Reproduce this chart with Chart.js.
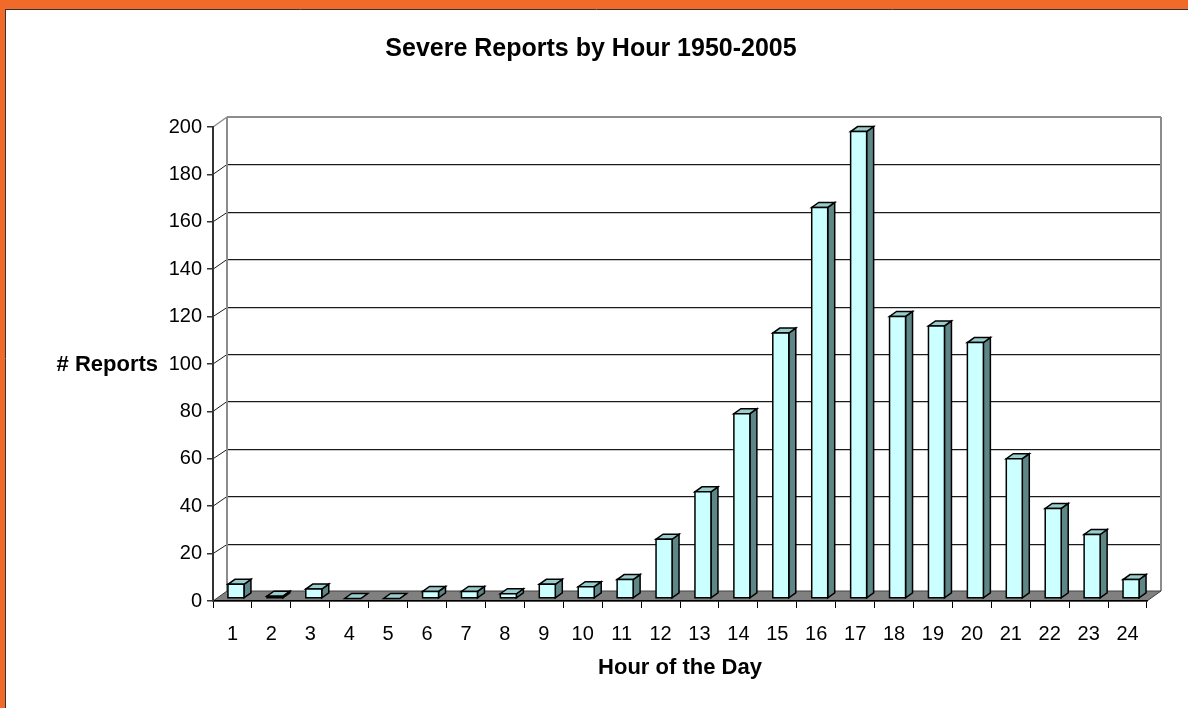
<!DOCTYPE html>
<html>
<head>
<meta charset="utf-8">
<script src="https://cdn.jsdelivr.net/npm/chart.js@4.4.1/dist/chart.umd.min.js"></script>
<style>
  html, body { margin: 0; padding: 0; background: #fff; }
  #wrap { width: 1188px; height: 708px; }
</style>
</head>
<body>
<div id="wrap"><canvas id="reportsChart" width="1188" height="708"></canvas></div>
<script>
// Severe reports per hour of the day
const hours = ['1', '2', '3', '4', '5', '6', '7', '8', '9', '10', '11', '12',
               '13', '14', '15', '16', '17', '18', '19', '20', '21', '22', '23', '24'];
const reports = [6, 1, 4, 0, 0, 3, 3, 2, 6, 5, 8, 25,
                 45, 78, 112, 165, 197, 119, 115, 108, 59, 38, 27, 8];
const yMin = 0;
const yMax = 200;
const yStep = 20;

const chartTitle = 'Severe Reports by Hour 1950-2005';
const xTitle = 'Hour of the Day';
const yTitle = '# Reports';

const FONT = "'Liberation Sans', Arial, sans-serif";

// 3d look: wall depth, bar front offset, bar depth
const DX = 14, DY = -10;
const BX = 3.5, BY = -2.5;
const SX = 7, SY = -5;

function line(ctx, x1, y1, x2, y2, color, w) {
    ctx.beginPath();
    ctx.moveTo(x1, y1);
    ctx.lineTo(x2, y2);
    ctx.strokeStyle = color;
    ctx.lineWidth = w;
    ctx.stroke();
}

function poly(ctx, pts, fill, stroke, w) {
    ctx.beginPath();
    ctx.moveTo(pts[0][0], pts[0][1]);
    for (let i = 1; i < pts.length; i++) ctx.lineTo(pts[i][0], pts[i][1]);
    ctx.closePath();
    ctx.fillStyle = fill;
    ctx.fill();
    if (stroke) {
        ctx.strokeStyle = stroke;
        ctx.lineWidth = w;
        ctx.lineJoin = 'miter';
        ctx.stroke();
    }
}

const excel3d = {
    id: 'excel3d',
    beforeDraw(chart) {
        const ctx = chart.ctx;
        const a = chart.chartArea;
        const y = chart.scales.y;
        ctx.save();

        // orange frame
        ctx.fillStyle = '#F26A2A';
        ctx.fillRect(0, 0, chart.width, 9);
        ctx.fillRect(0, 0, 5, chart.height);
        line(ctx, 5, 9.5, chart.width, 9.5, '#333', 1);
        line(ctx, 5.5, 9, 5.5, chart.height, '#333', 1);

        const wl = a.left + DX, wr = a.right + DX;
        const wt = y.getPixelForValue(yMax) + DY;
        const wb = y.getPixelForValue(yMin) + DY;

        // gridlines on back wall and side wall
        for (let v = yMin + yStep; v < yMax; v += yStep) {
            const fy = y.getPixelForValue(v);
            const by = Math.round(fy + DY) + 0.5;
            line(ctx, wl, by + 1, wr, by + 1, '#c8c8c8', 1);
            line(ctx, wl, by, wr, by, '#1a1a1a', 1);
            line(ctx, a.left, fy, wl, by, '#1a1a1a', 1);
        }

        // wall outline
        line(ctx, wl, wt, wr, wt, '#8c8c8c', 2);
        line(ctx, wl, wt, wl, wb, '#8c8c8c', 2);
        line(ctx, wr, wt, wr, wb, '#8c8c8c', 2);
        line(ctx, a.left, y.getPixelForValue(yMax), wl, wt, '#8c8c8c', 1.5);

        // floor
        const fb = y.getPixelForValue(yMin);
        poly(ctx, [[a.left, fb], [a.right, fb], [wr, wb], [wl, wb]], '#808080', '#404040', 1);
        ctx.restore();
    },
    afterDatasetsDraw(chart) {
        const ctx = chart.ctx;
        const meta = chart.getDatasetMeta(0);
        ctx.save();
        meta.data.forEach(bar => {
            const p = bar.getProps(['x', 'y', 'base', 'width'], true);
            const x0 = p.x - p.width / 2 + BX, x1 = p.x + p.width / 2 + BX;
            const yt = p.y + BY, yb = p.base + BY;
            // side face
            poly(ctx, [[x1, yt], [x1 + SX, yt + SY], [x1 + SX, yb + SY], [x1, yb]], '#5F8686', '#000', 1.5);
            // top face
            poly(ctx, [[x0, yt], [x1, yt], [x1 + SX, yt + SY], [x0 + SX, yt + SY]], '#99CCCC', '#000', 1.5);
            // front face
            if (yb - yt > 0.5) poly(ctx, [[x0, yt], [x1, yt], [x1, yb], [x0, yb]], '#CCFFFF', '#000', 1.5);
        });
        ctx.restore();
    },
    afterDraw(chart) {
        const ctx = chart.ctx;
        const y = chart.scales.y;
        ctx.save();
        ctx.fillStyle = '#000';
        ctx.textAlign = 'center';
        ctx.textBaseline = 'middle';
        ctx.font = 'bold 25px ' + FONT;
        ctx.fillText(chartTitle, 591, 49);
        ctx.font = 'bold 22px ' + FONT;
        ctx.textAlign = 'right';
        ctx.fillText(yTitle, 158, y.getPixelForValue(100) + 1);
        ctx.restore();
    }
};

new Chart(document.getElementById('reportsChart').getContext('2d'), {
    type: 'bar',
    data: {
        labels: hours,
        datasets: [{
            label: yTitle,
            data: reports,
            backgroundColor: 'rgba(0,0,0,0)',
            borderWidth: 0,
            categoryPercentage: 1,
            barPercentage: 0.411
        }]
    },
    options: {
        responsive: false,
        animation: false,
        devicePixelRatio: 1,
        layout: { padding: { top: 127, right: 41, left: 0, bottom: 0 } },
        plugins: {
            legend: { display: false },
            tooltip: { enabled: false },
            title: { display: false }
        },
        scales: {
            x: {
                grid: { drawOnChartArea: false, tickLength: 7, color: '#000', lineWidth: 1 },
                border: { color: '#000', width: 1.5 },
                ticks: { color: '#000', font: { family: FONT, size: 20 }, padding: 14, maxRotation: 0 },
                title: { display: true, text: xTitle, color: '#000', font: { family: FONT, size: 22, weight: 'bold' },
                         padding: { top: 0, bottom: 27 } },
                afterFit(scale) { scale.height = 107; }
            },
            y: {
                min: yMin,
                max: yMax,
                ticks: { stepSize: yStep, color: '#000', font: { family: FONT, size: 20 }, padding: 5 },
                grid: { drawOnChartArea: false, tickLength: 6, color: '#333', lineWidth: 1.5 },
                border: { color: '#333', width: 2 },
                afterFit(scale) { scale.width = 213; }
            }
        }
    },
    plugins: [excel3d]
});
</script>
</body>
</html>
